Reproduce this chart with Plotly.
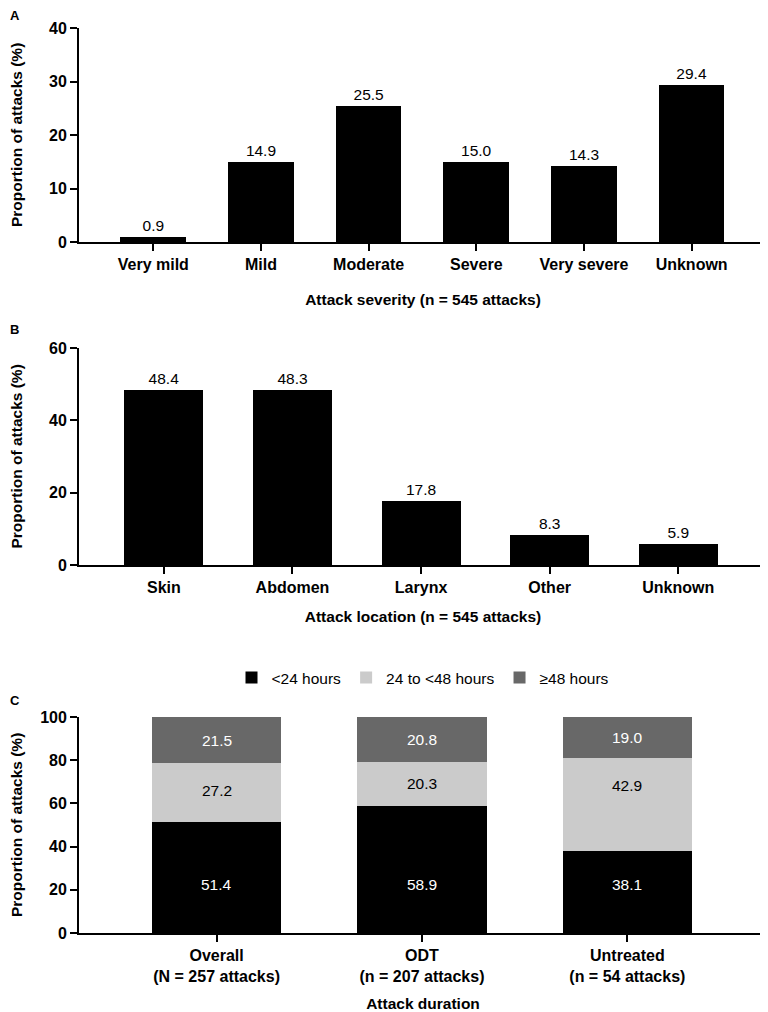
import plotly.graph_objects as go
from plotly.subplots import make_subplots

# ---------------- data ----------------
sev_cats = ["Very mild", "Mild", "Moderate", "Severe", "Very severe", "Unknown"]
sev_vals = [0.9, 14.9, 25.5, 15.0, 14.3, 29.4]

loc_cats = ["Skin", "Abdomen", "Larynx", "Other", "Unknown"]
loc_vals = [48.4, 48.3, 17.8, 8.3, 5.9]

dur_cats = ["Overall<br>(N = 257 attacks)", "ODT<br>(n = 207 attacks)", "Untreated<br>(n = 54 attacks)"]
dur_lt24 = [51.4, 58.9, 38.1]
dur_24_48 = [27.2, 20.3, 42.9]
dur_ge48 = [21.5, 20.8, 19.0]
dur_names = ["<24 hours", "24 to <48 hours", "≥48 hours"]

# ---------------- style ----------------
OFF = 8                      # page body margin of the html page
W, H = 768 - OFF, 1012 - OFF
FONT = "Liberation Sans, Arial, Helvetica, sans-serif"
BLACK = "#000000"
LIGHT = "#cbcbcb"
DARK = "#686868"
LW = 1.8
TICK_FS = 16
TITLE_FS = 15.5
VAL_FS = 15.5

# page pixel -> figure/paper coordinates
PL, PR = 79 - OFF, 767 - OFF


def px_x(p):
    return (p - OFF - PL) / (PR - PL)


def px_y(p):
    return 1 - (p - OFF) / H


fig = make_subplots(rows=3, cols=1)

# Panel A
fig.add_trace(go.Bar(x=sev_cats, y=sev_vals, marker=dict(color=BLACK, line=dict(width=0)),
                     width=0.61, text=[f"{v:.1f}" for v in sev_vals], textposition="outside",
                     textfont=dict(size=VAL_FS, color="black", family=FONT), cliponaxis=False,
                     showlegend=False), row=1, col=1)
# Panel B
fig.add_trace(go.Bar(x=loc_cats, y=loc_vals, marker=dict(color=BLACK, line=dict(width=0)),
                     width=0.615, text=[f"{v:.1f}" for v in loc_vals], textposition="outside",
                     textfont=dict(size=VAL_FS, color="black", family=FONT), cliponaxis=False,
                     showlegend=False), row=2, col=1)
# Panel C (stacked)
for vals, name, col in [(dur_lt24, dur_names[0], BLACK), (dur_24_48, dur_names[1], LIGHT), (dur_ge48, dur_names[2], DARK)]:
    fig.add_trace(go.Bar(x=dur_cats, y=vals, name=name, width=0.63,
                         marker=dict(color=col, line=dict(width=0))), row=3, col=1)

fig.update_layout(barmode="stack")

# Labels inside stacked segments
annots = []
for i, c in enumerate(dur_cats):
    a, b, d = dur_lt24[i], dur_24_48[i], dur_ge48[i]
    annots.append(dict(x=c, y=22.5, xref="x3", yref="y3", text=f"{a:.1f}", showarrow=False,
                       font=dict(size=VAL_FS, color="white", family=FONT)))
    top_b = a + b
    annots.append(dict(x=c, y=top_b - min(b / 2, 12.5), xref="x3", yref="y3", text=f"{b:.1f}",
                       showarrow=False, font=dict(size=VAL_FS, color="black", family=FONT)))
    annots.append(dict(x=c, y=top_b + d / 2, xref="x3", yref="y3", text=f"{d:.1f}", showarrow=False,
                       font=dict(size=VAL_FS, color="white", family=FONT)))

# Panel letters
for letter, yp in [("A", 16), ("B", 330), ("C", 700)]:
    annots.append(dict(x=px_x(OFF), y=px_y(yp), xref="paper", yref="paper", text=f"<b>{letter}</b>",
                       showarrow=False, xanchor="left", yanchor="middle",
                       font=dict(size=13, color="black", family=FONT)))

# Y axis titles
for yr in ["y domain", "y2 domain", "y3 domain"]:
    annots.append(dict(x=px_x(16), y=0.5, xref="paper", yref=yr, text="<b>Proportion of attacks (%)</b>",
                       showarrow=False, textangle=-90, xanchor="center", yanchor="middle",
                       font=dict(size=TITLE_FS, color="black", family=FONT)))

axis_common = dict(showline=True, linecolor="black", linewidth=LW, ticks="outside", ticklen=7,
                   tickwidth=LW, tickcolor="black", showgrid=False, zeroline=False, automargin=False,
                   tickfont=dict(size=TICK_FS, color="black", family=FONT, weight="bold"))

fig.update_yaxes(**axis_common)
fig.update_xaxes(**axis_common)
fig.update_xaxes(domain=[0, 1])

title_font = dict(size=TITLE_FS, color="black", family=FONT, weight="bold")
fig.update_layout(
    yaxis=dict(domain=[px_y(242), px_y(28)], range=[0, 40], tickvals=[0, 10, 20, 30, 40]),
    yaxis2=dict(domain=[px_y(565), px_y(348)], range=[0, 60], tickvals=[0, 20, 40, 60]),
    yaxis3=dict(domain=[px_y(933), px_y(717)], range=[0, 100], tickvals=[0, 20, 40, 60, 80, 100]),
    xaxis=dict(range=[-0.69, 5.7],
               title=dict(text="Attack severity (n = 545 attacks)", standoff=22, font=title_font)),
    xaxis2=dict(range=[-0.66, 4.69],
                title=dict(text="Attack location (n = 545 attacks)", standoff=16, font=title_font)),
    xaxis3=dict(range=[-0.67, 2.68],
                title=dict(text="Attack duration", standoff=14, font=title_font)),
)

fig.update_layout(
    width=W, height=H, template="none",
    paper_bgcolor="white", plot_bgcolor="white",
    margin=dict(l=PL, r=W - PR, t=0, b=0, autoexpand=False),
    font=dict(family=FONT, color="black", size=15),
    legend=dict(orientation="h", x=0.5, xanchor="center", y=px_y(678), yanchor="middle",
                font=dict(size=VAL_FS, color="black", family=FONT), traceorder="normal",
                bgcolor="rgba(0,0,0,0)"),
    annotations=annots,
)

fig.write_html("out.html")
